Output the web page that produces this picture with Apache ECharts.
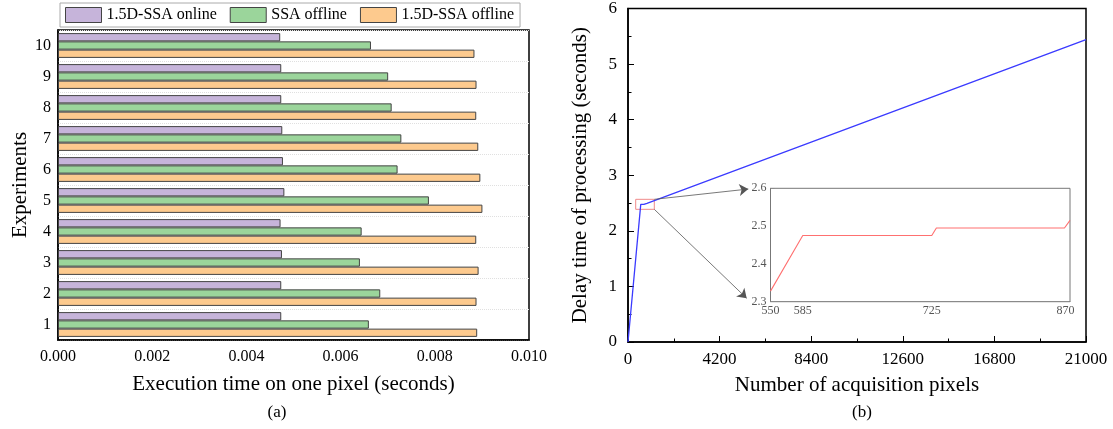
<!DOCTYPE html>
<html>
<head>
<meta charset="utf-8">
<script src="https://cdn.jsdelivr.net/npm/echarts@6/dist/echarts.min.js"></script>
<style>html,body{margin:0;padding:0;background:#fff}#c{width:1113px;height:429px}</style>
</head>
<body>
<div id="c"></div>
<script>
// ---- Panel (a) data ----
const experiments = ['1','2','3','4','5','6','7','8','9','10'];
const onlineSSA15 = [0.00474,0.00474,0.004755,0.004725,0.004806,0.004776,0.004762,0.00474,0.00474,0.004718];
const offlineSSA = [0.0066,0.006842,0.00641,0.006447,0.007875,0.00721,0.00729,0.007084,0.00701,0.006645];
const offlineSSA15 = [0.0089,0.008886,0.00893,0.00888,0.009011,0.008967,0.008923,0.00888,0.008886,0.008842];
const xTicksA = [0,0.002,0.004,0.006,0.008,0.010];

// ---- Panel (b) data ----
const acqPixels = [0,585,725,730,869,875,21000];
const delaySec = [0,2.475,2.475,2.495,2.495,2.515,5.44];
const insetPixels = [550,585,725,730,869,875];
const insetDelay = [2.328,2.475,2.475,2.495,2.495,2.515];
const insetLabelTicks = [550,585,725,870];
const insetTickValues = [550,567.5,585,655,725,797.5,870];

const FONT = "'Liberation Serif','Times New Roman',serif";
const chart = echarts.init(document.getElementById('c'), null, {renderer:'canvas'});

const pairs = (xs, ys) => xs.map((x,i)=>[x, ys[i]]);

const barStyle = c => ({color:c, borderColor:'#444', borderWidth:1});

chart.setOption({
  animation:false,
  backgroundColor:'#fff',
  textStyle:{fontFamily:FONT, color:'#000'},
  title:[
    {text:'(a)', left:272, top:399, textAlign:'center', textStyle:{fontFamily:FONT, fontSize:17, fontWeight:'normal', color:'#000'}},
    {text:'(b)', left:857, top:399, textAlign:'center', textStyle:{fontFamily:FONT, fontSize:17, fontWeight:'normal', color:'#000'}}
  ],
  legend:{
    data:['1.5D-SSA online','SSA offline','1.5D-SSA offline'],
    left:60, top:3, itemWidth:36, itemHeight:15, itemGap:13,
    padding:[4,6,4,5], borderColor:'#aaa', borderWidth:1,
    icon:'rect',
    itemStyle:{borderColor:'#444', borderWidth:1},
    textStyle:{fontFamily:FONT, fontSize:16, color:'#000'}
  },
  grid:[
    {left:58, top:30, width:471, height:310, show:true, borderColor:'#000', borderWidth:1.5},
    {left:628, top:8.5, width:458, height:333.5, show:true, borderColor:'#000', borderWidth:1.5},
    {left:770.5, top:188.3, width:299.5, height:113.4, show:true, borderColor:'#777', borderWidth:1, backgroundColor:'#fff', z:5}
  ],
  xAxis:[
    {gridIndex:0, type:'value', min:0, max:0.01, interval:0.002,
      axisLine:{show:true, lineStyle:{color:'#000', width:1.5}},
      axisTick:{show:false}, splitLine:{show:false},
      axisLabel:{fontFamily:FONT, fontSize:16, color:'#000', margin:9, formatter:v=>v.toFixed(3),
        customValues:xTicksA},
      name:'Execution time on one pixel (seconds)', nameLocation:'middle', nameGap:34,
      nameTextStyle:{fontFamily:FONT, fontSize:21, color:'#000'}},
    {gridIndex:1, type:'value', min:0, max:21000, interval:4200,
      axisLine:{show:true, lineStyle:{color:'#000', width:1.5}},
      axisTick:{show:true, inside:true, length:6, lineStyle:{color:'#000'}},
      minorTick:{show:true, splitNumber:2, length:3.5, lineStyle:{color:'#000'}},
      splitLine:{show:false},
      axisLabel:{fontFamily:FONT, fontSize:17, color:'#000', margin:9, formatter:v=>String(v)},
      name:'Number of acquisition pixels', nameLocation:'middle', nameGap:33,
      nameTextStyle:{fontFamily:FONT, fontSize:21, color:'#000'}},
    {gridIndex:2, type:'value', min:550, max:875,
      axisLine:{show:true, lineStyle:{color:'#777', width:1}},
      axisTick:{show:true, inside:true, length:4, lineStyle:{color:'#777'}, customValues:insetTickValues},
      splitLine:{show:false},
      axisLabel:{fontFamily:FONT, fontSize:12, color:'#555', margin:3, customValues:insetLabelTicks}}
  ],
  yAxis:[
    {gridIndex:0, type:'category', data:experiments,
      axisLine:{show:true, lineStyle:{color:'#000', width:1.5}},
      axisTick:{show:false},
      splitLine:{show:true, lineStyle:{color:'#e0e0e0', type:'dotted', width:1}},
      axisLabel:{fontFamily:FONT, fontSize:16, color:'#000', margin:7},
      name:'Experiments', nameLocation:'middle', nameGap:27,
      nameTextStyle:{fontFamily:FONT, fontSize:21, color:'#000'}},
    {gridIndex:1, type:'value', min:0, max:6, interval:1,
      axisLine:{show:true, lineStyle:{color:'#000', width:1.5}},
      axisTick:{show:true, inside:true, length:6, lineStyle:{color:'#000'}},
      minorTick:{show:true, splitNumber:2, length:3.5, lineStyle:{color:'#000'}},
      splitLine:{show:false},
      axisLabel:{fontFamily:FONT, fontSize:17, color:'#000', margin:11},
      name:'Delay time of processing (seconds)', nameLocation:'middle', nameGap:37,
      nameTextStyle:{fontFamily:FONT, fontSize:21, color:'#000'}},
    {gridIndex:2, type:'value', min:2.3, max:2.6, interval:0.1,
      axisLine:{show:true, lineStyle:{color:'#777', width:1}},
      axisTick:{show:true, inside:true, length:4, lineStyle:{color:'#777'}},
      splitLine:{show:false},
      axisLabel:{fontFamily:FONT, fontSize:12, color:'#555', margin:4, formatter:v=>v.toFixed(1)}}
  ],
  series:[
    {name:'1.5D-SSA online', type:'bar', xAxisIndex:0, yAxisIndex:0, data:onlineSSA15,
      itemStyle:barStyle('#c6b4da'), barGap:'0%', barCategoryGap:'20%'},
    {name:'SSA offline', type:'bar', xAxisIndex:0, yAxisIndex:0, data:offlineSSA,
      itemStyle:barStyle('#9bd59b'), barGap:'0%', barCategoryGap:'20%'},
    {name:'1.5D-SSA offline', type:'bar', xAxisIndex:0, yAxisIndex:0, data:offlineSSA15,
      itemStyle:barStyle('#fdca8e'), barGap:'0%', barCategoryGap:'20%'},
    {name:'delay', type:'line', xAxisIndex:1, yAxisIndex:1, data:pairs(acqPixels, delaySec),
      showSymbol:false, lineStyle:{color:'#3a3aff', width:1.3}, itemStyle:{color:'#3a3aff'},
      markArea:{silent:true, itemStyle:{color:'rgba(0,0,0,0)', borderColor:'#f08a8a', borderWidth:1},
        data:[[{coord:[353,2.567]},{coord:[1206,2.387]}]]},
      markLine:{silent:true, symbol:['none','arrow'], symbolSize:[9,9], label:{show:false},
        lineStyle:{color:'#555', type:'solid', width:0.8},
        data:[[{coord:[1206,2.567]},{coord:[5516,2.752]}],[{coord:[1206,2.387]},{coord:[5442,0.786]}]]}},
    {name:'inset', type:'line', xAxisIndex:2, yAxisIndex:2, data:pairs(insetPixels, insetDelay),
      showSymbol:false, z:6, lineStyle:{color:'#ff7070', width:1.1}, itemStyle:{color:'#ff7070'}}
  ]
});
</script>
</body>
</html>
